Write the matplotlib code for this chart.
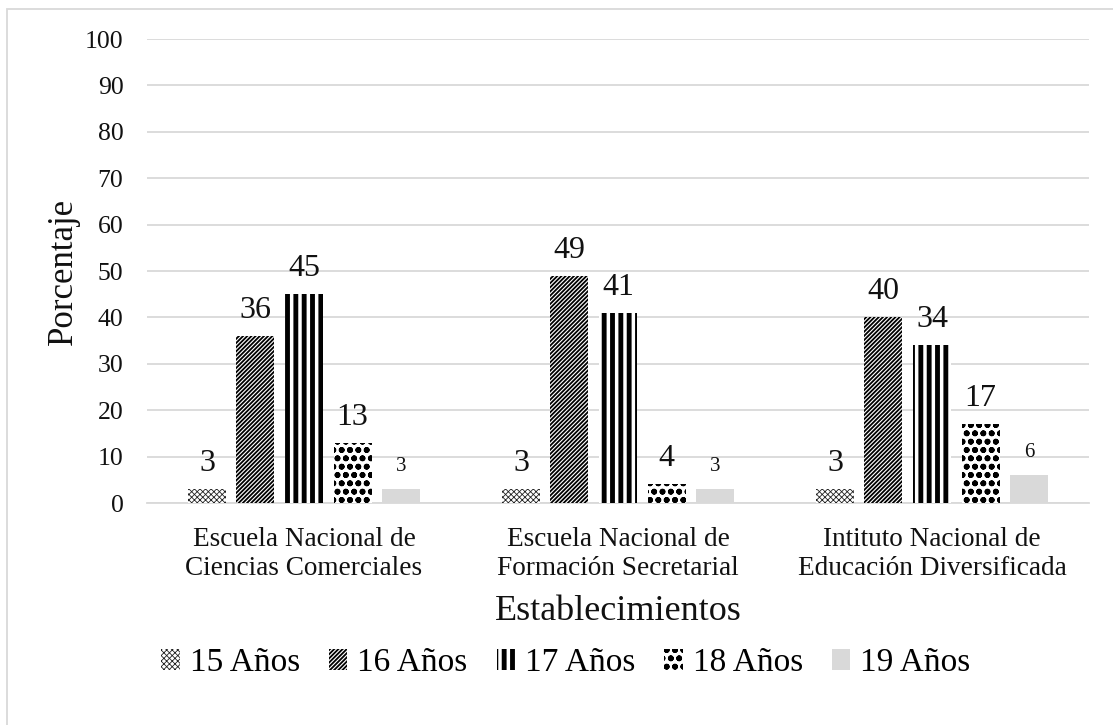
import matplotlib
matplotlib.use("Agg")
import matplotlib.pyplot as plt
from matplotlib.patches import Rectangle, Patch
import numpy as np

# Data
categories = [
    "Escuela Nacional de\nCiencias Comerciales",
    "Escuela Nacional de\nFormación Secretarial",
    "Intituto Nacional de\nEducación Diversificada",
]
series_names = ["15 Años", "16 Años", "17 Años", "18 Años", "19 Años"]
age_15 = [3, 3, 3]
age_16 = [36, 49, 40]
age_17 = [45, 41, 34]
age_18 = [13, 4, 17]
age_19 = [3, 3, 6]
yticks = [0, 10, 20, 30, 40, 50, 60, 70, 80, 90, 100]

series_values = [age_15, age_16, age_17, age_18, age_19]

# Styles per series: (facecolor, hatch colour, hatch, hatch linewidth)
styles = [
    ("white", "#222222", "xxxxxx", 0.6),
    ("white", "black", "////////", 1.3),
    ("white", "black", "||", 3.5),
    ("white", "black", "oo", 1.8),
    ("#d9d9d9", "#d9d9d9", None, 1.0),
]
label_sizes = [23, 23, 23, 23, 15]

FONT = "Liberation Serif"
plt.rcParams["font.family"] = [FONT, "DejaVu Serif"]

W, H = 1113, 725
fig = plt.figure(figsize=(W / 100, H / 100), dpi=100)
ax = fig.add_axes([147 / W, 1 - 503 / H, (1089 - 147) / W, (503 - 39) / H])

x = np.arange(len(categories))
step = 0.1545
width = 0.121


def apply_hatch_lw(artist, lw):
    if hasattr(artist, "set_hatch_linewidth"):
        artist.set_hatch_linewidth(lw)


handles = []
for i, (name, vals) in enumerate(zip(series_names, series_values)):
    fc, hc, hatch, hlw = styles[i]
    offs = x + (i - 2) * step
    with plt.rc_context({"hatch.linewidth": hlw}):
        bars = ax.bar(offs, vals, width=width, color=fc, edgecolor=hc,
                      linewidth=0, hatch=hatch, zorder=3)
        for b in bars:
            apply_hatch_lw(b, hlw)
        h = Patch(facecolor=fc, edgecolor=hc, hatch=hatch, linewidth=0, label=name)
        apply_hatch_lw(h, hlw)
    handles.append(h)
    for xi, v in zip(offs, vals):
        ax.annotate(f"{v}", xy=(xi, v), xytext=(0, 13), textcoords="offset points",
                    ha="center", va="baseline", fontsize=label_sizes[i], color="#111111")

ax.set_ylim(0, 100)
ax.set_xlim(-0.5, len(categories) - 0.5)
ax.set_yticks(yticks)
ax.set_yticklabels([str(t) for t in yticks], fontsize=18.5)
ax.set_xticks(x)
ax.set_xticklabels(categories, fontsize=19.6, linespacing=1.25)
ax.tick_params(axis="both", length=0, colors="#111111")
ax.tick_params(axis="y", pad=17)
ax.tick_params(axis="x", pad=17)
ax.grid(axis="y", color="#d9d9d9", linewidth=1.3, zorder=0)
for s in ["top", "right", "left"]:
    ax.spines[s].set_visible(False)
ax.spines["bottom"].set_color("#d9d9d9")
ax.spines["bottom"].set_linewidth(1.3)

fig.text(63 / W, 1 - 271 / H, "Porcentaje", rotation=90, ha="center", va="center",
         fontsize=25, color="#111111")
fig.text(618 / W, 1 - 612 / H, "Establecimientos", ha="center", va="center",
         fontsize=26, color="#111111")

leg = fig.legend(handles=handles, loc="center", bbox_to_anchor=(566 / W, 1 - 663 / H),
                 ncol=5, frameon=False, fontsize=24, handlelength=0.55, handleheight=0.55,
                 handletextpad=0.3, columnspacing=0.87, borderaxespad=0)
for p, st in zip(leg.get_patches(), styles):
    apply_hatch_lw(p, st[3])

# Outer chart border
fig.add_artist(Rectangle((7 / W, -0.2), 1.2, 1.2 - 9 / H, transform=fig.transFigure,
                         fill=False, edgecolor="#d9d9d9", linewidth=1.3))

fig.savefig("out.png", dpi=100)
